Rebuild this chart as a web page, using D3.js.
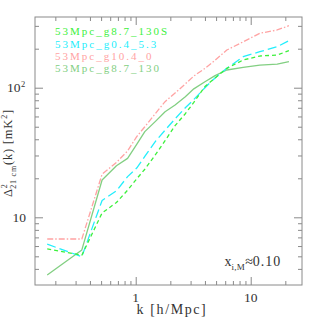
<!DOCTYPE html>
<html>
<head>
<meta charset="utf-8">
<script src="https://cdn.jsdelivr.net/npm/d3@7"></script>
<style>
  html, body { margin: 0; padding: 0; background: #fff; }
  svg { display: block; }
  text { font-family: "Liberation Serif", "Times New Roman", serif; fill: #333; }
</style>
</head>
<body>
<svg id="chart" width="319" height="319"></svg>
<script>
// ---- data ----
const kValues = [0.17, 0.34, 0.51, 0.68, 0.85, 1.02, 1.2, 1.5, 1.8, 2.2, 2.7, 3.2, 4.0, 4.9, 6.2, 8.6, 12, 17, 21.5];

const seriesNames = ["53Mpc_g8.7_130S", "53Mpc_g0.4_5.3", "53Mpc_g10.4_0", "53Mpc_g8.7_130"];

const g87_130S = [5.7, 5.1, 10.8, 13.0, 16.2, 19.8, 23.5, 30.8, 39, 51, 63, 77, 102, 119, 141, 163.6, 175.6, 178.7, 193];
const g04_53   = [6.2, 4.97, 13.5, 16, 20.6, 24, 29.5, 39, 47, 57.5, 70, 81, 100, 119, 141, 173.4, 189.6, 207, 230.6];
const g104_0   = [6.8, 6.8, 21.5, 26.5, 32.5, 41.9, 50, 64, 78, 91, 107, 123, 141, 163, 195.4, 226, 263, 279, 301];
const g87_130  = [3.59, 5.6, 19.4, 25, 28.5, 36.5, 45.8, 55.5, 65.3, 73.5, 85.2, 98, 111.2, 124, 137, 143.6, 149.6, 152, 158.7];

const seriesValues = [g87_130S, g04_53, g104_0, g87_130];

const xMajorTicks = [1, 10];
const xMinorTicks = [0.2, 0.3, 0.4, 0.5, 0.6, 0.7, 0.8, 0.9, 2, 3, 4, 5, 6, 7, 8, 9, 20];
const yMajorTicks = [10, 100];
const yMinorTicks = [4, 5, 6, 7, 8, 9, 20, 30, 40, 50, 60, 70, 80, 90, 200, 300];
const xTickLabels = ["1", "10"];
const annotationValue = "0.10";

// ---- styles ----
const colors = ["#3cf03c", "#22eefc", "#ffa3a3", "#82cf82"];
const dashes = ["4,3", "9,4", "6,2,1.5,2", null];

// ---- layout ----
const L = 35, R = 302, T = 17, B = 285;
const svg = d3.select("#chart");

const x = d3.scaleLog().domain([0.1331, 27.93]).range([L, R]);
const y = d3.scaleLog().domain([3.004, 351.2]).range([B, T]);

// ---- series ----
const line = d3.line().x(d => x(d[0])).y(d => y(d[1]));
const plot = svg.append("g");
const drawOrder = [3, 2, 1, 0];
drawOrder.forEach(i => {
  const pts = kValues.map((k, j) => [k, seriesValues[i][j]]);
  plot.append("path")
    .attr("d", line(pts))
    .attr("fill", "none")
    .attr("stroke", colors[i])
    .attr("stroke-width", 1.3)
    .attr("stroke-dasharray", dashes[i])
    .attr("stroke-linejoin", "round");
});

// ---- axes (ticks inward, mirrored) ----
const frameColor = "#8a8a8a";
function styleAxis(g) {
  g.select(".domain").remove();
  g.selectAll("line").attr("stroke", frameColor).attr("stroke-width", 1);
  g.selectAll("text").remove();
}
[[xMinorTicks, 4], [xMajorTicks, 8]].forEach(([vals, len]) => {
  svg.append("g").attr("transform", `translate(0,${B})`)
    .call(d3.axisBottom(x).tickValues(vals).tickSize(-len).tickFormat("")).call(styleAxis);
  svg.append("g").attr("transform", `translate(0,${T})`)
    .call(d3.axisTop(x).tickValues(vals).tickSize(-len).tickFormat("")).call(styleAxis);
});
[[yMinorTicks, 4], [yMajorTicks, 8]].forEach(([vals, len]) => {
  svg.append("g").attr("transform", `translate(${L},0)`)
    .call(d3.axisLeft(y).tickValues(vals).tickSize(-len).tickFormat("")).call(styleAxis);
  svg.append("g").attr("transform", `translate(${R},0)`)
    .call(d3.axisRight(y).tickValues(vals).tickSize(-len).tickFormat("")).call(styleAxis);
});

svg.append("rect")
  .attr("x", L).attr("y", T).attr("width", R - L).attr("height", B - T)
  .attr("fill", "none").attr("stroke", frameColor).attr("stroke-width", 1);

// ---- tick labels ----
xMajorTicks.forEach((v, i) => {
  svg.append("text").attr("x", x(v)).attr("y", 302)
    .attr("text-anchor", "middle").attr("font-size", 13.5)
    .text(xTickLabels[i]);
});
svg.append("text").attr("x", 26).attr("y", y(10) + 4.5)
  .attr("text-anchor", "end").attr("font-size", 13.5).text("10");
const t100 = svg.append("text").attr("x", 7).attr("y", y(100) + 4.5)
  .attr("font-size", 13.5);
t100.append("tspan").text("10");
t100.append("tspan").attr("font-size", 8.5).attr("dy", -5.5).attr("dx", 0.5).text("2");

// ---- axis titles ----
svg.append("text").attr("x", 172).attr("y", 314)
  .attr("text-anchor", "middle").attr("font-size", 14).attr("letter-spacing", 1.6)
  .text("k [h/Mpc]");

const yt = svg.append("text")
  .attr("transform", `translate(12,153) rotate(-90)`)
  .attr("text-anchor", "middle").attr("font-size", 12.5).attr("letter-spacing", 0.8);
yt.append("tspan").text("Δ");
yt.append("tspan").attr("font-size", 8).attr("dy", -5).text("2");
yt.append("tspan").attr("font-size", 8).attr("dx", -5.5).attr("dy", 8.5).text("21 cm");
yt.append("tspan").attr("dy", -3.5).text("(k) [mK");
yt.append("tspan").attr("font-size", 8).attr("dy", -5).text("2");
yt.append("tspan").attr("dy", 5).text("]");

// ---- legend ----
const legendBaselines = [35.2, 47.6, 60.0, 72.4];
seriesNames.forEach((name, i) => {
  svg.append("text").attr("x", 55).attr("y", legendBaselines[i])
    .attr("font-size", 11).attr("letter-spacing", 2)
    .style("fill", colors[i]).text(name);
});

// ---- annotation ----
const ann = svg.append("text").attr("x", 224.5).attr("y", 266).attr("font-size", 14);
ann.append("tspan").text("x");
ann.append("tspan").attr("font-size", 9).attr("dy", 4).attr("letter-spacing", 0.3).text("i,M");
ann.append("tspan").attr("dy", -4).attr("dx", 0).text("≈");
ann.append("tspan").attr("letter-spacing", 1).text(annotationValue);
</script>
</body>
</html>
